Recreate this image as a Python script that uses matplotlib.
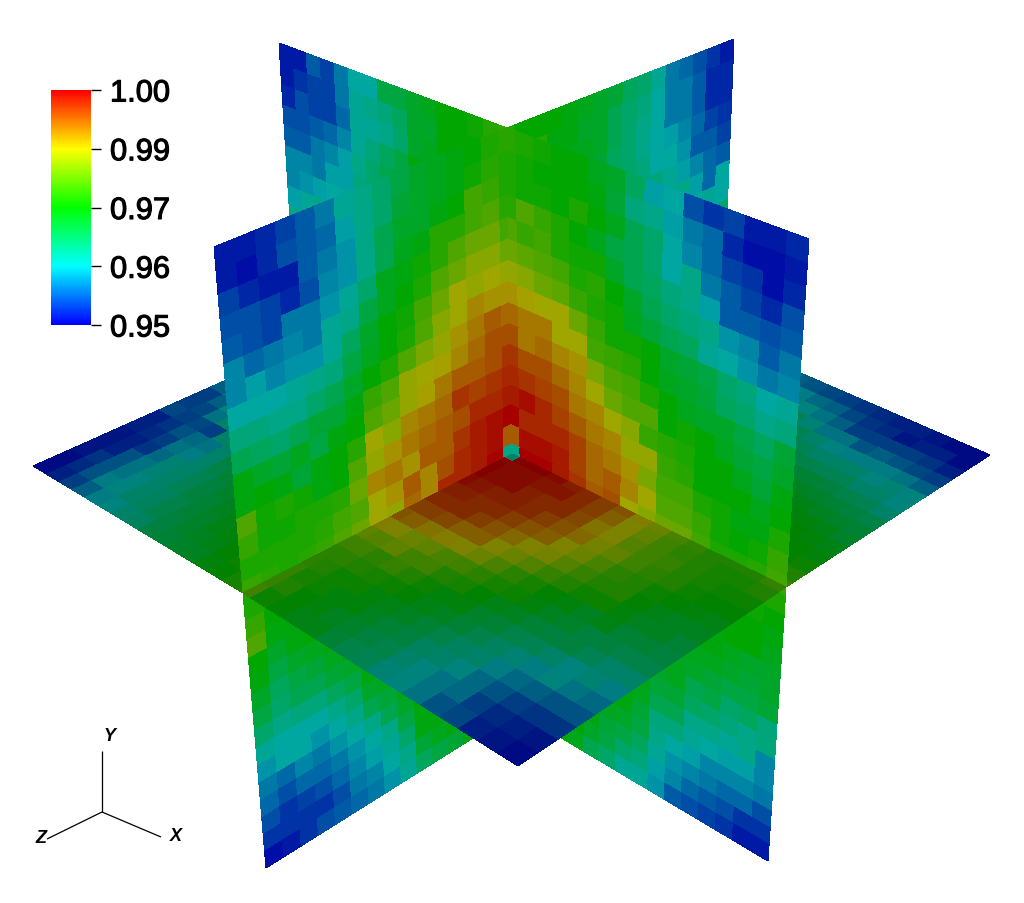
import numpy as np
import matplotlib
matplotlib.use("Agg")
import matplotlib.pyplot as plt
import matplotlib.patheffects as pe
from matplotlib.collections import PolyCollection
from matplotlib.colors import LinearSegmentedColormap, Normalize
from matplotlib.cm import ScalarMappable

# Plane x=0, z>0, y>0 (front left, upper); columns z 1->0, rows y 1->0
front_left = [
[ 2, 2, 3, 5, 7, 9,14,15,17,20,22,23,24,25,27,28],
[ 2, 1, 3, 6, 7, 8,12,15,17,21,22,23,24,26,28,27],
[ 5, 3, 2, 2, 7, 9,11,15,19,22,22,24,25,30,29,27],
[ 6, 6, 5, 3, 6,10,11,15,19,23,24,28,28,30,31,28],
[ 7, 6, 5, 9, 9,11,14,17,23,24,26,28,31,33,33,30],
[10, 8, 9,10, 9,14,15,20,23,25,27,31,33,35,35,33],
[10,12,10,11,11,14,18,22,25,26,30,33,37,36,37,36],
[13,13,13,14,15,16,20,23,25,27,31,35,37,40,39,39],
[16,16,15,15,17,19,22,25,27,31,34,36,39,41,43,42],
[19,18,17,19,21,21,24,29,31,36,37,38,40,42,44,44],
[24,22,21,23,20,24,25,31,33,36,38,41,43,43,44,46],
[24,25,24,21,24,25,28,37,35,40,41,42,46,45,46,47],
[31,26,27,26,24,25,31,36,39,41,42,43,44,47,47,48],
[29,26,26,27,27,28,33,40,41,39,43,43,46,48,49,50],
[27,27,27,27,28,30,31,37,39,43,40,44,47,48,49,43],
[29,28,27,28,29,31,33,37,36,42,40,47,47,48,50,15],
]
# Plane z=0, x>0, y>0 (front right, upper); columns x 0->1, rows y 1->0
front_right = [
[28,27,26,25,25,23,22,18,12,13, 6, 4, 5, 2, 2, 3],
[27,26,25,25,25,24,21,16,15,12, 9, 8, 3, 1, 1, 2],
[27,26,26,25,27,25,23,19,17,13,10, 8, 5, 4, 1, 3],
[28,31,29,27,25,23,20,19,17,13,15, 9, 7, 5, 3, 6],
[31,29,30,27,26,26,22,19,18,16,15,12, 7, 7, 6, 7],
[33,32,31,30,27,28,25,22,19,17,16,15,11,10, 7, 9],
[36,35,33,32,29,27,26,23,21,19,18,14,13,11, 9,10],
[39,38,37,37,33,29,26,26,25,22,21,20,17,16,13,14],
[42,41,41,37,37,30,29,28,25,23,22,21,18,17,15,16],
[44,41,42,40,39,34,31,30,27,25,23,22,22,20,18,21],
[46,44,44,42,40,37,33,31,31,25,26,25,23,21,20,22],
[47,46,45,44,41,40,37,35,29,28,27,25,25,23,21,24],
[48,49,47,45,43,41,40,36,36,29,28,25,25,25,23,25],
[50,47,47,47,45,42,41,39,34,30,30,27,26,24,24,27],
[43,49,49,48,45,42,43,40,37,31,31,29,26,25,26,29],
[15,50,50,48,46,43,44,37,35,33,33,30,27,27,28,30],
]
# Plane z=0, x<0, y>0 (back left, visible rows only); columns x -1->0
back_left = [
[ 2, 2, 7, 5, 9,13,13,20,20,22,23,25,25,26,28,29],
[ 2, 4, 5, 5, 9,14,15,16,18,22,22,25,25,25,28,27],
[ 3, 6, 5, 5, 8,14,14,15,17,22,23,25,25,26,27,27],
[ 6, 6, 7, 8,10,14,16,18,20,24,25,25,25,26,28,28],
[ 7, 7, 9,10,12,15,17,19,22,24,25,25,26,27,28,28],
[10,10, 9,12,12,16,18,20,23,25,25,26,27,28,29,29],
[10,11,12,13,14,17,19,22,24,25,26,27,28,30,31,31],
[12,14,15,16,18,20,23,24,25,26,27,28,29,30,31,31],
[15,16,18,20,21,23,25,26,26,27,27,28,28,30,31,31],
]
# Plane x=0, z<0, y>0 (back right, visible rows only); columns z 0->-1
back_right = [
[27,25,25,25,24,23,22,21,18,17,14, 9, 8, 6, 4, 2],
[26,25,28,24,24,22,22,19,17,16,13, 9, 9, 7, 3, 3],
[27,25,25,24,23,23,22,19,17,15,13, 9, 9, 7, 3, 3],
[27,25,25,24,23,22,21,18,17,15,13,12,10, 8, 5, 4],
[28,26,25,24,23,22,21,20,17,16,13,13,11, 7, 7, 5],
[29,27,25,24,23,22,21,20,20,17,16,14,12,10, 8, 7],
[30,27,26,25,24,23,22,22,21,20,18,15,15,12, 8,13],
[31,28,27,26,25,24,23,22,21,20,18,17,15,13,14,13],
[32,29,28,27,26,25,24,23,22,21,20,19,18,17,16,17],
]
# Plane x=0, z>0, y<0 (lower left); columns z 1->0, rows y 0->-1
lower_left = [
[27,27,26,25,25,25,25,25,25,25,25,25,25,25,25,25],
[27,26,25,25,25,25,25,25,25,25,25,25,25,25,25,25],
[29,25,25,25,25,25,25,25,25,25,25,25,25,25,25,25],
[31,24,24,25,25,25,25,25,25,25,25,25,25,25,25,25],
[25,22,24,25,24,25,25,25,25,25,25,25,25,25,25,25],
[24,20,22,23,24,25,25,25,25,25,25,25,25,25,25,25],
[22,18,20,21,23,24,25,25,25,25,25,25,25,25,25,25],
[20,17,19,19,21,22,25,25,25,25,25,25,25,25,25,25],
[17,15,16,16,18,20,24,25,25,25,25,25,25,25,25,25],
[14,13,13,13,15,17,22,23,25,25,25,25,25,25,25,25],
[11,13,13,11,13,15,19,21,24,25,25,25,25,25,25,25],
[ 9, 8,10, 9,11,13,15,19,22,25,25,25,25,25,25,25],
[ 8, 6, 8, 8, 9,11,13,15,20,24,25,25,25,25,25,25],
[ 6, 4, 5, 6, 8,10,12,14,17,24,24,25,25,25,25,25],
[ 4, 4, 4, 4, 6, 9,10,13,15,21,23,24,25,25,25,25],
[ 1, 2, 4, 6, 7, 8, 9,11,14,18,20,21,24,25,25,25],
]
# Plane z=0, x>0, y<0 (lower right); columns x 0->1, rows y 0->-1
lower_right = [
[25,25,25,25,25,25,25,25,25,25,25,25,26,26,27,29],
[25,25,25,25,25,25,25,25,25,25,25,25,25,26,27,27],
[25,25,25,25,25,25,25,25,25,25,25,25,25,25,26,25],
[25,25,25,25,25,25,25,25,25,25,25,25,25,25,25,24],
[25,25,25,25,25,25,25,25,25,25,25,25,24,25,25,23],
[25,25,25,25,25,25,25,25,25,25,24,25,24,23,22,22],
[25,25,25,25,25,25,25,25,25,24,24,23,23,22,21,22],
[25,25,25,25,25,25,25,25,25,23,23,22,21,20,20,21],
[25,25,25,25,25,25,25,25,25,22,23,19,20,17,18,16],
[25,25,25,25,25,25,25,25,24,21,21,18,17,16,15,16],
[25,25,25,25,25,25,25,24,23,19,19,15,15,14,15,10],
[25,25,25,25,25,25,24,24,21,16,16,14,13,12,12,10],
[25,25,25,25,25,24,23,22,20,15,13,12,10,10,10, 9],
[25,25,25,25,25,24,21,20,18,14,11,10, 9, 8, 8, 6],
[25,25,25,25,25,22,20,17,16,12,10, 8, 7, 6, 4, 4],
[25,25,25,25,23,19,17,14,14,11, 7, 6, 5, 4, 2, 2],
]
# Plane y=0, x>0, z>0 (front diamond); columns x 0->1, rows z 0->1
floor_front = [
[15,50,50,49,47,46,44,42,38,35,32,30,28,28,28,30],
[50,49,49,48,48,46,44,41,37,34,31,29,28,27,27,28],
[50,49,49,47,46,46,43,39,37,33,31,30,28,27,26,26],
[49,48,47,47,46,44,42,40,36,34,31,29,28,26,25,25],
[47,47,46,46,44,42,41,37,35,32,29,28,26,25,24,23],
[46,46,46,44,42,40,37,36,33,30,28,28,25,23,22,22],
[44,44,43,41,41,37,35,33,30,28,26,26,24,22,22,20],
[42,41,39,38,37,35,32,29,27,25,24,22,23,20,20,19],
[38,37,35,34,32,31,29,27,26,24,22,21,19,19,18,18],
[34,33,34,31,31,28,27,25,23,22,20,19,19,17,15,15],
[31,31,29,30,28,26,24,24,21,20,18,17,15,13,14,12],
[29,29,28,27,26,25,23,22,20,18,16,14,12,13,11,10],
[29,28,26,26,24,23,22,20,18,16,15,12,10, 9, 8, 8],
[30,27,26,24,24,22,20,19,16,15,13,10, 8, 6, 5, 5],
[30,28,25,24,22,21,19,18,15,13,11,10, 6, 4, 3, 2],
[31,26,25,23,23,20,18,17,14,13,11, 8, 7, 3, 2, 1],
]
# Plane y=0, x<0, z>0 (left wing); columns x 0->-1, rows z 0->1
floor_left = [
[50,49,47,44,40,37,34,31,29,27,26,25,24,24,23,22],
[50,49,46,43,40,37,34,31,28,26,25,24,24,23,21,20],
[48,46,46,42,39,36,33,30,28,26,24,24,23,22,20,18],
[47,45,44,41,38,35,32,29,27,25,24,23,22,20,18,15],
[45,43,41,39,36,33,30,28,26,25,23,22,21,18,15,12],
[43,41,39,37,34,31,29,27,25,24,22,21,19,15,12, 9],
[40,38,36,34,31,29,27,26,24,23,21,19,17,13, 9, 6],
[37,36,34,31,29,27,26,25,23,21,19,17,15,11, 7, 6],
[35,33,31,29,28,26,25,24,22,20,18,15, 6, 7, 6, 7],
[33,31,30,28,27,25,24,23,21,19,15,11,10, 8, 5, 3],
[31,30,29,27,26,25,23,22,20,18,15,12,11, 6, 4, 3],
[30,29,28,26,25,24,22,21,19,17,15,14,10, 5, 3, 2],
[30,29,27,26,25,23,22,20,19,17,15,14,11, 8, 3, 2],
[30,28,26,25,24,23,21,20,18,16,15,13,11, 8, 5, 2],
[29,27,26,25,23,22,21,19,18,16,15,13,12, 8, 4, 1],
[28,27,25,24,22,21,20,19,16,15,13,12, 9, 6, 3, 1],
]
# Plane y=0, x>0, z<0 (right wing); columns z 0->-1, rows x 0->1
floor_right = [
[50,50,48,45,41,37,34,31,28,27,26,25,25,24,23,21],
[49,48,46,43,39,36,33,30,28,26,25,25,24,23,20,17],
[48,46,44,41,38,35,32,29,27,25,25,24,24,22,18,15],
[46,44,42,39,36,33,30,28,26,25,24,23,23,20,17,14],
[44,42,40,37,34,32,29,27,25,24,23,23,22,18,15,11],
[42,40,38,35,33,30,28,26,25,24,23,21,20,17,13, 9],
[40,38,36,34,31,29,27,26,24,23,21,19,18,15,12, 8],
[38,36,34,32,30,28,26,25,23,21,20,18,17,13,10, 7],
[36,34,32,30,28,26,25,24,22,20,18,17,14,11, 9, 6],
[34,33,31,29,27,25,24,23,22,19,17,15,11, 9, 7, 5],
[33,31,29,28,26,25,24,22,20,18,15,13,11, 6, 5, 4],
[32,30,28,27,26,25,23,22,20,17,15,12, 8, 6, 4, 3],
[31,29,27,26,25,24,23,21,19,17,15,12, 9, 6, 2, 3],
[30,28,27,25,25,24,22,20,18,15,13,12, 8, 6, 3, 2],
[30,28,25,25,24,23,21,19,17,15,14,11, 7, 5, 3, 1],
[31,28,26,24,23,21,20,18,15,13,13, 9, 6, 3, 1, 1],
]

tick_values = [0.95, 0.9625, 0.975, 0.9875, 1.0]
tick_labels = ["0.95", "0.96", "0.97", "0.99", "1.00"]
stop_colors = ["#0000ff", "#00ffff", "#00ff00", "#ffff00", "#ff0000"]

# Where the corners of the cube's mid-planes land in the image, in pixels
CORNER_PIXELS = {
    (0, 1, 1): (214, 248), (0, -1, 1): (266, 869), (0, 1, -1): (734, 40),
    (1, 1, 0): (809, 240), (1, -1, 0): (768, 862), (-1, 1, 0): (279, 44),
    (0, 1, 0): (507, 129), (1, 0, 1): (518, 767), (1, 0, -1): (990, 456),
    (-1, 0, 1): (33, 467), (1, 0, 0): (786, 588), (0, 0, 1): (243, 594),
    (0, 0, 0): (512, 455), (0, -1, 0): (516, 712), (-1, 0, 0): (298, 349),
    (0, 0, -1): (722, 340),
}

def fit_homography(src, dst):
    rows = []
    for (a, b), (u, v) in zip(src, dst):
        rows.append([a, b, 1, 0, 0, 0, -u * a, -u * b, -u])
        rows.append([0, 0, 0, a, b, 1, -v * a, -v * b, -v])
    return np.linalg.svd(np.array(rows, float))[2][-1].reshape(3, 3)

# Cells next to the centre axis are half as wide as the others
EDGE = np.r_[0, np.arange(0.5, 16)] / 15.5
OUT = EDGE[::-1]

cmap = LinearSegmentedColormap.from_list("rainbow5", stop_colors, N=256)
norm = Normalize(0.95, 1.0)

fig = plt.figure(figsize=(10.24, 9.04), dpi=100, facecolor="white")
ax = fig.add_axes([0, 0, 1, 1])
ax.set_xlim(0, 1024)
ax.set_ylim(904, 0)
ax.axis("off")

VERTICAL_SHADE = 0.65
FLOOR_SHADE = 0.51

def panel(values, col_axis, col_edges, row_axis, row_edges, shade, z):
    vals = np.asarray(values, float)
    src, dst = [], []
    for a in (col_edges[0], col_edges[-1]):
        for b in (row_edges[0], row_edges[-1]):
            key = [0, 0, 0]
            key[col_axis], key[row_axis] = int(round(a)), int(round(b))
            src.append((a, b))
            dst.append(CORNER_PIXELS[tuple(key)])
    H = fit_homography(src, dst)
    polys, faces = [], []
    for i in range(vals.shape[0]):
        for j in range(vals.shape[1]):
            pts = np.array([(col_edges[c], row_edges[r], 1.0) for c, r in
                            [(j, i), (j + 1, i), (j + 1, i + 1), (j, i + 1)]])
            h = pts @ H.T
            polys.append(h[:, :2] / h[:, 2:3])
            faces.append(np.array(cmap(norm(0.95 + vals[i, j] / 1000))[:3]) * shade)
    ax.add_collection(PolyCollection(polys, facecolors=faces, edgecolors="none",
                                     linewidths=0, antialiaseds=False, zorder=z))

X, Y, Z = 0, 1, 2
panel(back_left, X, -OUT, Y, OUT, VERTICAL_SHADE, 1)
panel(back_right, Z, -EDGE, Y, OUT, VERTICAL_SHADE, 1)
panel(lower_left, Z, OUT, Y, -EDGE, VERTICAL_SHADE, 2)
panel(lower_right, X, EDGE, Y, -EDGE, VERTICAL_SHADE, 2)
panel(floor_left, X, -EDGE, Z, EDGE, FLOOR_SHADE, 3)
panel(floor_right, Z, -EDGE, X, EDGE, FLOOR_SHADE, 3)
panel(front_left, Z, OUT, Y, OUT, VERTICAL_SHADE, 4)
panel(front_right, X, EDGE, Y, OUT, VERTICAL_SHADE, 4)
panel(floor_front, X, EDGE, Z, EDGE, FLOOR_SHADE, 5)

# Colour bar
W, H_PX = 1024, 904
cax = fig.add_axes([51 / W, 1 - 326 / H_PX, 40 / W, 235 / H_PX])
cb = fig.colorbar(ScalarMappable(norm=norm, cmap=cmap), cax=cax, ticks=tick_values)
cb.outline.set_visible(False)
cb.ax.set_yticklabels(tick_labels, fontsize=22.2, family="Liberation Sans", color="black")
cb.ax.tick_params(length=7.2, width=1, pad=6.5, color="black")
for t in cb.ax.get_yticklabels():
    t.set_path_effects([pe.withStroke(linewidth=0.8, foreground="black")])

# Orientation triad
origin = (102, 813)
for end in [(102, 752), (47, 840), (161, 838)]:
    ax.plot([origin[0], end[0]], [origin[1], end[1]], color="black", lw=0.9,
            solid_capstyle="butt", zorder=6)
for label, pos in [("Y", (109, 737)), ("Z", (41, 839)), ("X", (176, 837))]:
    ax.text(pos[0], pos[1], label, fontsize=13, style="italic", weight="bold",
            family="Liberation Sans", ha="center", va="center", color="black", zorder=6)

fig.savefig("out.png", dpi=100, facecolor="white")
